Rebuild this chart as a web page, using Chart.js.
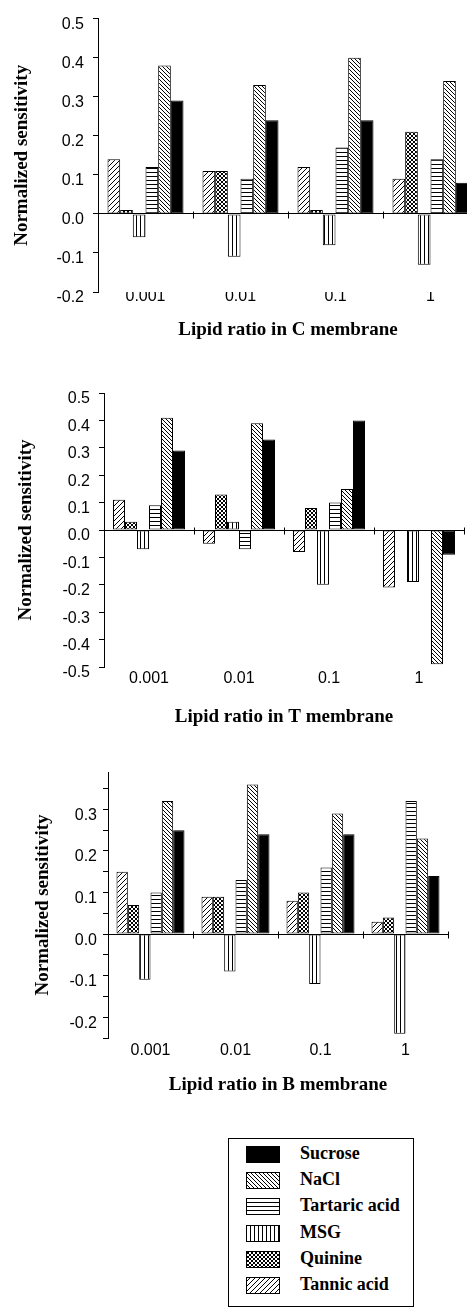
<!DOCTYPE html>
<html>
<head>
<meta charset="utf-8">
<script src="https://cdn.jsdelivr.net/npm/chart.js@4.4.1/dist/chart.umd.min.js"></script>
<style>
  html, body { margin: 0; padding: 0; background: #fff; }
  body { width: 467px; height: 1309px; overflow: hidden; position: relative; }
  canvas.chart { position: absolute; left: 0; }
  #legend {
    position: absolute; left: 228px; top: 1138px; width: 186px; height: 169px;
    border: 1px solid #000; box-sizing: border-box;
    font-family: "Liberation Serif", "Times New Roman", serif; font-weight: bold; font-size: 18px; color: #000;
  }
  .item { position: absolute; left: 17px; height: 17px; }
  .item canvas { position: absolute; left: 0; top: 0; }
  .item span { position: absolute; left: 54px; top: -1px; line-height: 17px; white-space: nowrap; }
</style>
</head>
<body>
<canvas id="chartC" class="chart" width="480" height="345" style="top:0px"></canvas>
<canvas id="chartT" class="chart" width="467" height="390" style="top:345px"></canvas>
<canvas id="chartB" class="chart" width="467" height="365" style="top:735px"></canvas>
<div id="legend"></div>
<script>
const categories = ["0.001", "0.01", "0.1", "1"];
const seriesNames = ["Tannic acid", "Quinine", "MSG", "Tartaric acid", "NaCl", "Sucrose"];

// C membrane
const tannicC   = [0.14, 0.11, 0.12, 0.09];
const quinineC  = [0.01, 0.11, 0.01, 0.21];
const msgC      = [-0.06, -0.11, -0.08, -0.13];
const tartaricC = [0.12, 0.09, 0.17, 0.14];
const naclC     = [0.38, 0.33, 0.40, 0.34];
const sucroseC  = [0.29, 0.24, 0.24, 0.08];

// T membrane
const tannicT   = [0.11, -0.05, -0.08, -0.21];
const quinineT  = [0.03, 0.13, 0.08, 0];
const msgT      = [-0.07, 0.03, -0.20, -0.19];
const tartaricT = [0.09, -0.07, 0.10, 0];
const naclT     = [0.41, 0.39, 0.15, -0.49];
const sucroseT  = [0.29, 0.33, 0.40, -0.09];

// B membrane
const tannicB   = [0.15, 0.09, 0.08, 0.03];
const quinineB  = [0.07, 0.09, 0.10, 0.04];
const msgB      = [-0.11, -0.09, -0.12, -0.24];
const tartaricB = [0.10, 0.13, 0.16, 0.32];
const naclB     = [0.32, 0.36, 0.29, 0.23];
const sucroseB  = [0.25, 0.24, 0.24, 0.14];

// y tick labels
const ticksC = [-0.2, -0.1, 0, 0.1, 0.2, 0.3, 0.4, 0.5];
const ticksT = [-0.5, -0.4, -0.3, -0.2, -0.1, 0, 0.1, 0.2, 0.3, 0.4, 0.5];
const ticksB = [-0.2, -0.1, 0, 0.1, 0.2, 0.3];
const minorB = [-0.25, -0.15, -0.05, 0.05, 0.15, 0.25, 0.35];

document.addEventListener("DOMContentLoaded", () => {
  Chart.defaults.font.family = '"Liberation Sans", Arial, sans-serif';
  Chart.defaults.color = "#000";

  const serif = '"Liberation Serif", "Times New Roman", serif';

  function hatch(size, draw) {
    const c = document.createElement("canvas");
    c.width = size;
    c.height = size;
    const g = c.getContext("2d");
    g.fillStyle = "#fff";
    g.fillRect(0, 0, size, size);
    g.strokeStyle = "#000";
    g.fillStyle = "#000";
    g.lineWidth = 1;
    draw(g, size);
    return g.createPattern(c, "repeat");
  }
  const fwd = (g, s) => {
    g.beginPath();
    g.moveTo(0, s); g.lineTo(s, 0);
    g.moveTo(-1, 1); g.lineTo(1, -1);
    g.moveTo(s - 1, s + 1); g.lineTo(s + 1, s - 1);
    g.stroke();
  };
  const back = (g, s) => {
    g.beginPath();
    g.moveTo(0, 0); g.lineTo(s, s);
    g.moveTo(-1, s - 1); g.lineTo(1, s + 1);
    g.moveTo(s - 1, -1); g.lineTo(s + 1, 1);
    g.stroke();
  };

  // fills in dataset order: Tannic, Quinine, MSG, Tartaric, NaCl, Sucrose
  const fills = [
    hatch(5, fwd),
    hatch(4, (g, s) => { fwd(g, s); back(g, s); }),
    hatch(4, (g, s) => g.fillRect(0, 0, 1, s)),
    hatch(4, (g, s) => g.fillRect(0, 0, s, 1)),
    hatch(4, back),
    "#000"
  ];

  // little crosses on the zero line at the category boundaries
  const zeroTicks = {
    id: "zeroTicks",
    afterDatasetsDraw(chart) {
      const { ctx, scales: { x, y } } = chart;
      const y0 = Math.round(y.getPixelForValue(0)) + 0.5;
      ctx.save();
      ctx.strokeStyle = "#000";
      ctx.lineWidth = 1;
      ctx.beginPath();
      for (let i = 1; i <= categories.length; i++) {
        const px = Math.round(x.getPixelForValue(i - 0.5)) + 0.5;
        ctx.moveTo(px, y0 - 3);
        ctx.lineTo(px, y0 + 4);
      }
      ctx.stroke();
      ctx.restore();
    }
  };

  function makeChart(id, series, cfg) {
    const labelled = cfg.ticks;
    const allTicks = cfg.ticks.concat(cfg.minor || []).sort((a, b) => a - b);
    new Chart(document.getElementById(id), {
      type: "bar",
      data: {
        labels: categories,
        datasets: series.map((d, i) => ({
          label: seriesNames[i],
          data: d,
          backgroundColor: fills[i],
          borderColor: "#000",
          borderWidth: 1,
          borderSkipped: false,
          categoryPercentage: 0.8,
          barPercentage: 1.0
        }))
      },
      options: {
        responsive: false,
        animation: false,
        devicePixelRatio: 1,
        layout: { padding: { top: cfg.top, right: cfg.right, left: 0, bottom: 0 } },
        plugins: { legend: { display: false }, tooltip: { enabled: false } },
        scales: {
          x: {
            afterFit: (a) => { a.height = cfg.xh; },
            border: { display: false },
            grid: { display: false, drawTicks: false },
            ticks: { font: { size: 16 }, padding: cfg.xpad, maxRotation: 0, autoSkip: false },
            title: {
              display: true,
              text: cfg.xtitle,
              font: { family: serif, size: 19, weight: "bold" },
              padding: { top: 0, bottom: cfg.xtb }
            }
          },
          y: {
            min: cfg.min,
            max: cfg.max,
            afterBuildTicks: (a) => { a.ticks = allTicks.map((v) => ({ value: v })); },
            afterFit: (a) => { a.width = cfg.yw; },
            border: { color: "#000", width: 1 },
            grid: {
              color: (c) => (c.tick && c.tick.value === 0 ? "#000" : "rgba(0,0,0,0)"),
              tickColor: "#000",
              tickLength: 5,
              drawTicks: true
            },
            ticks: {
              font: { size: 16 },
              padding: cfg.ypad,
              labelOffset: 6,
              autoSkip: false,
              callback: (v) => (labelled.includes(v) ? v.toFixed(1) : "")
            },
            title: {
              display: true,
              text: "Normalized sensitivity",
              font: { family: serif, size: 19, weight: "bold" },
              padding: { top: cfg.ytp, bottom: 0 }
            }
          }
        }
      },
      plugins: [zeroTicks]
    });
  }

  makeChart("chartC", [tannicC, quinineC, msgC, tartaricC, naclC, sucroseC], {
    ticks: ticksC, min: -0.2, max: 0.5,
    top: 17, right: 2, yw: 98, xh: 53, xpad: -5, xtb: 4, ypad: 9, ytp: 11,
    xtitle: "Lipid ratio in C membrane"
  });
  makeChart("chartT", [tannicT, quinineT, msgT, tartaricT, naclT, sucroseT], {
    ticks: ticksT, min: -0.5, max: 0.5,
    top: 48, right: 3, yw: 104, xh: 68, xpad: 2, xtb: 7, ypad: 9, ytp: 15,
    xtitle: "Lipid ratio in T membrane"
  });
  makeChart("chartB", [tannicB, quinineB, msgB, tartaricB, naclB, sucroseB], {
    ticks: ticksB, minor: minorB, min: -0.25, max: 0.39,
    top: 37, right: 19, yw: 108, xh: 62, xpad: 3, xtb: 4, ypad: 6, ytp: 32,
    xtitle: "Lipid ratio in B membrane"
  });

  // legend, listed from Sucrose down to Tannic acid
  const legend = document.getElementById("legend");
  for (let k = 0; k < seriesNames.length; k++) {
    const i = seriesNames.length - 1 - k;
    const item = document.createElement("div");
    item.className = "item";
    item.style.top = (7 + k * 26.2) + "px";
    const sw = document.createElement("canvas");
    sw.width = 34;
    sw.height = 17;
    const g = sw.getContext("2d");
    g.fillStyle = fills[i];
    g.fillRect(0, 0, 34, 17);
    g.strokeStyle = "#000";
    g.lineWidth = 1;
    g.strokeRect(0.5, 0.5, 33, 16);
    const txt = document.createElement("span");
    txt.textContent = seriesNames[i];
    item.appendChild(sw);
    item.appendChild(txt);
    legend.appendChild(item);
  }
});
</script>
</body>
</html>
